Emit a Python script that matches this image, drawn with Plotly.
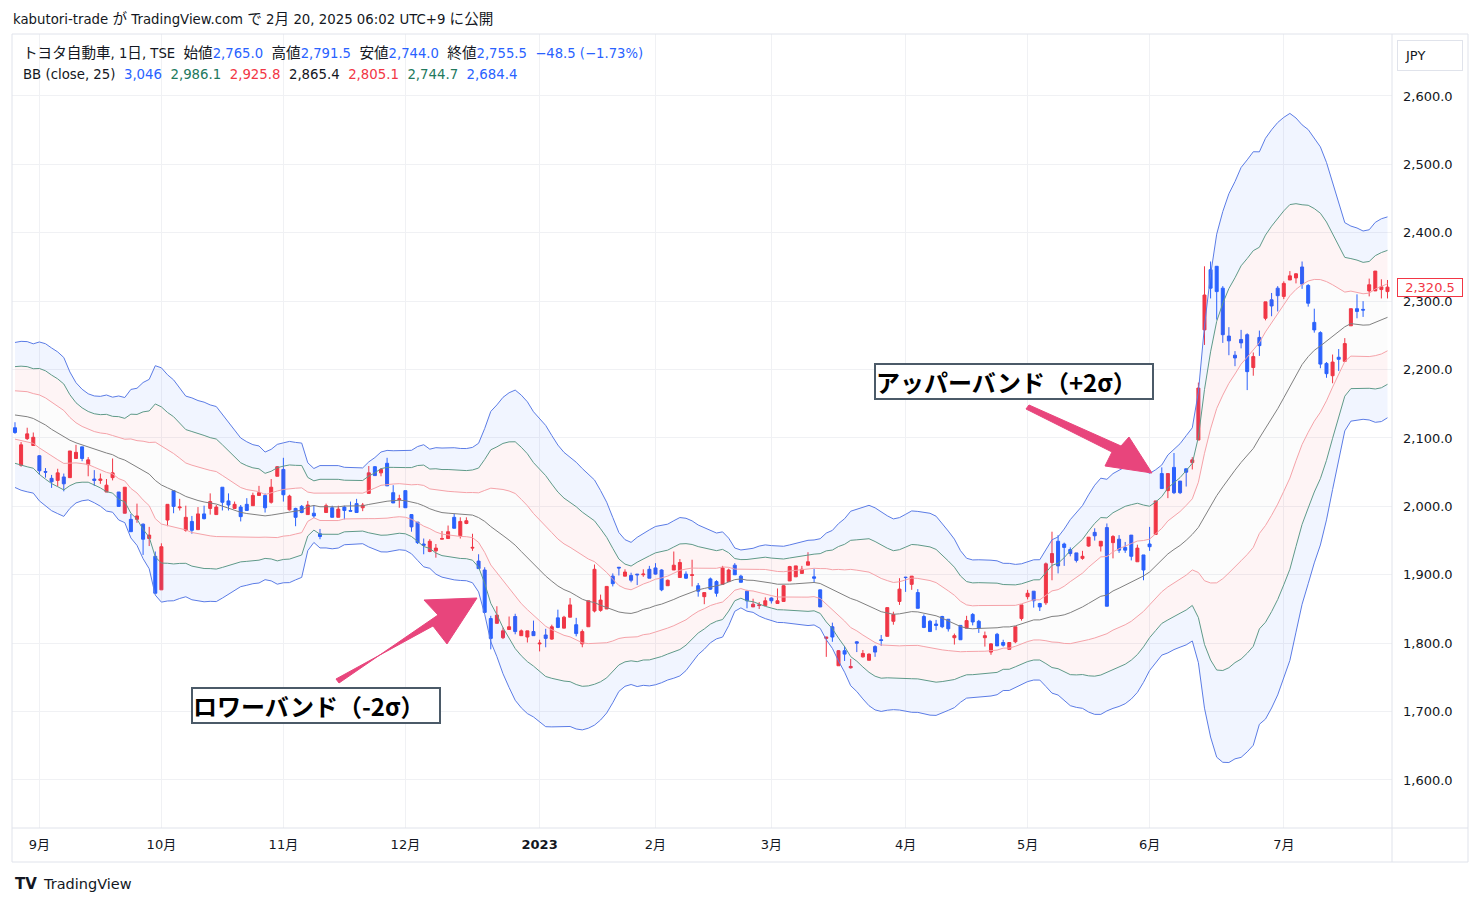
import plotly.graph_objects as go
import pandas as pd

# ---------------- data ----------------
opens = [2115,2060,2099,2089,2074,2051,2041,2038,2043,2042,2070,2087,2061,2040,2038,2021,2042,2021,1990,1981,
         1981,1974,1953,1927,1878,1980,2023,1998,1965,1978,1966,1989,1997,1988,2028,2008,1997,1999,2003,2001,
         2016,2016,2006,2044,2054,1995,1997,2000,1988,1990,1960,1991,1998,1984,1999,1994,2004,1998,2019,2058,
         2049,2063,2020,2010,2023,1988,1977,1945,1934,1935,1952,1953,1984,1957,1975,1939,1920,1907,1836,1829,
         1808,1820,1839,1811,1809,1817,1799,1812,1806,1837,1822,1838,1827,1799,1824,1847,1848,1850,1898,1911,
         1898,1899,1901,1900,1908,1910,1907,1884,1907,1896,1901,1899,1884,1868,1894,1890,1886,1890,1914,1898,
         1876,1853,1855,1855,1866,1858,1861,1891,1897,1902,1914,1897,1878,1807,1824,1767,1789,1764,1802,1780,
         1775,1795,1805,1810,1832,1861,1896.5,1886,1874,1839,1832,1828,1839,1835,1808,1826,1822,1842,1832,1808,
         1787,1813,1801,1791,1802,1836,1868,1876,1858,1859,1918,1949,1945,1937,1932,1924,1942,1962,1942,1969,
         1947,1952,1940,1958,1919,1929,1945,1959,2048,2023,2057,2037,2055,2064,2097,2258,2346,2351,2319,2249,
         2221,2244,2251,2203,2247,2275,2302,2319,2307,2331,2334,2350,2323,2269,2254,2209,2191,2218,2212,2264,
         2289,2288,2315,2315,2317,2314]
highs = [2123,2094,2115,2108,2075,2056,2046,2055,2048,2081,2090,2087,2072,2053,2048,2040,2070,2021,2028,1989,
         2004,1975,1970,1934,1946,2003,2023,2011,2001,1986,1999,2001,2019,2002,2028,2019,2007,2002,2012,2020,
         2030,2019,2040,2059,2071,2017,1998,2002,2008,2002,1967,2004,2001,2001,2001,2007,2011,2005,2059,2059,
         2056,2071,2031,2017,2023,1988,1977,1953,1952,1945,1964,1972,1989,1984,1984,1960,1930,1911,1840,1854,
         1823,1839,1843,1820,1818,1833,1805,1821,1827,1849,1840,1866,1837,1820,1862,1915,1871,1883,1902,1911,
         1908,1903,1901,1908,1913,1917,1908,1893,1934,1923,1905,1922,1888,1874,1896,1892,1913,1909,1917,1900,
         1878,1865,1860,1867,1867,1880,1885,1913,1913,1913,1933,1909,1878,1809,1830,1790,1796,1777,1803,1790,
         1785,1797,1812,1852,1846,1895,1897,1898,1879,1842,1834,1834,1840,1835,1814,1826,1840,1844,1834,1817,
         1800,1815,1805,1801,1824,1856,1878,1876,1859,1918,1963,1958,1947,1940,1932,1935,1955,1968,1949,1975,
         1958,1958,1948,1958,1944,1929,1970,2008,2057,2048,2078,2037,2055,2072,2181,2351,2358,2351,2322,2262,
         2227,2258,2253,2225,2257,2299,2312,2322,2329,2344,2341,2358,2325,2289,2256,2211,2222,2230,2246,2289,
         2310,2300,2333,2344,2332,2331]
lows = [2106,2058,2097,2089,2046,2042,2027,2029,2022,2042,2070,2066,2044,2030,2033,2021,2038,2000,1990,1963,
        1976,1929,1942,1873,1878,1971,1990,1994,1963,1960,1966,1981,1988,1988,1994,1994,1997,1978,1994,2001,
        2016,1991,2004,2044,2007,1994,1971,1990,1988,1983,1952,1991,1984,1984,1981,1993,1991,1993,2019,2045,
        2044,2030,2005,1998,1998,1963,1945,1930,1933,1925,1952,1953,1968,1953,1974,1935,1909,1845,1791,1829,
        1806,1820,1813,1811,1801,1811,1788,1794,1805,1822,1822,1838,1810,1794,1824,1845,1846,1850,1883,1899,
        1898,1889,1885,1897,1895,1900,1876,1884,1907,1896,1894,1883,1868,1857,1878,1868,1885,1890,1900,1889,
        1851,1853,1850,1855,1858,1858,1861,1891,1897,1902,1914,1888,1853,1780,1802,1767,1774,1763,1787,1779,
        1775,1780,1796,1810,1827,1856,1875,1878,1851,1822,1817,1819,1822,1817,1798,1805,1822,1826,1815,1795,
        1783,1796,1795,1791,1800,1833,1864,1852,1847,1856,1892,1902,1913,1927,1918,1922,1941,1950,1934,1854,
        1924,1932,1932,1921,1919,1892,1935,1959,2026,2012,2018,2018,2029,2054,2097,2236,2304,2273,2239,2221,
        2205,2231,2170,2191,2220,2272,2278,2285,2303,2331,2326,2318,2292,2254,2202,2188,2180,2198,2212,2264,
        2275,2277,2307,2315,2304,2304]
closes = [2108,2090,2106,2101,2052,2050,2036,2049,2033,2081,2079,2070,2068,2038,2040,2031,2049,2000,2028,1963,
          1986,1952,1958,1873,1941,2003,2000,1999,1984,1965,1989,1982,2007,1999,2006,2002,2003,1985,1994,2016,
          2020,1998,2028,2058,2017,2015,1984,1991,2002,1986,1956,2001,1984,1996,1994,1993,1991,2002,2049,2045,
          2054,2030,2005,2011,1998,1970,1947,1943,1949,1939,1953,1963,1968,1978,1979,1940,1909,1845,1807,1841,
          1818,1824,1817,1818,1818,1811,1800,1807,1824,1823,1838,1856,1814,1817,1862,1908,1863,1883,1887,1910,
          1904,1892,1900,1901,1895,1901,1878,1892,1914,1918,1895,1900,1876,1874,1879,1873,1910,1907,1900,1889,
          1862,1857,1856,1862,1862,1862,1884,1912,1913,1908,1919,1895,1853,1809,1809,1789,1784,1766,1800,1785,
          1784,1787,1804,1852,1842,1879,1896,1898,1851,1823,1817,1826,1824,1821,1811,1805,1833,1831,1822,1811,
          1799,1796,1797,1801,1824,1856,1873,1862,1853,1916,1931,1913,1940,1931,1921,1927,1955,1957,1949,1854,
          1956,1936,1936,1927,1939,1907,1941,2008,2026,2048,2020,2020,2050,2068,2173,2309,2319,2314,2251,2242,
          2217,2239,2197,2219,2235,2299,2293,2308,2326,2337,2340,2325,2297,2258,2208,2194,2211,2215,2238,2289,
          2285,2287,2324,2344,2321,2320.5]
# closes before the first visible bar, estimated so the bands at the left edge match the picture
pre_closes = [2120,2140,2165,2160,2180,2195,2175,2185,2200,2175,2150,2135,2130,2110,2095,
              2110,2120,2105,2095,2100,2090,2085,2105,2108]

month_tick_idx = [4, 24, 44, 64, 86, 105, 124, 146, 166, 186, 208]
month_tick_text = ["9月", "10月", "11月", "12月", "<b>2023</b>", "2月", "3月", "4月", "5月", "6月", "7月"]
price_ticks = [1600, 1700, 1800, 1900, 2000, 2100, 2200, 2300, 2400, 2500, 2600]
bb_period = 25
last_price = 2320.5

# ---------------- figure geometry helpers ----------------
W, H = 1480, 906
PL, PR, PT, PB = 12, 1392, 34, 828


def px(xp):
    return (xp - PL) / (PR - PL)


def py(yp):
    return (PB - yp) / (PB - PT)


x = list(range(len(closes)))
series = pd.Series(pre_closes + closes, dtype=float)
mid = series.rolling(bb_period).mean().iloc[len(pre_closes):].tolist()
sd = series.rolling(bb_period).std(ddof=0).iloc[len(pre_closes):].tolist()

BLUE_L = "#5b7ce6"
GREEN_L = "#5f9a89"
PINK_L = "#f5a3a9"
GREY_L = "#808080"
BLUE_F = "rgba(41,98,255,0.065)"
PINK_F = "rgba(242,54,69,0.055)"
IN_F = "rgba(120,123,134,0.025)"

fig = go.Figure()


def band(k, color, fill=None, fillcolor=None):
    ys = [m + k * s for m, s in zip(mid, sd)]
    fig.add_trace(go.Scatter(x=x, y=ys, mode="lines", line=dict(color=color, width=1),
                             fill=fill, fillcolor=fillcolor, hoverinfo="skip", showlegend=False))


band(3, BLUE_L)
band(2, GREEN_L, "tonexty", BLUE_F)
band(1, PINK_L, "tonexty", PINK_F)
band(0, GREY_L, "tonexty", IN_F)
band(-1, PINK_L, "tonexty", IN_F)
band(-2, GREEN_L, "tonexty", PINK_F)
band(-3, BLUE_L, "tonexty", BLUE_F)

fig.add_trace(go.Candlestick(
    x=x, open=opens, high=highs, low=lows, close=closes,
    increasing=dict(line=dict(color="#f23645", width=1), fillcolor="#f23645"),
    decreasing=dict(line=dict(color="#2962ff", width=1), fillcolor="#2962ff"),
    whiskerwidth=0, showlegend=False))

FONT = "'DejaVu Sans', 'Noto Sans CJK JP', sans-serif"
TXT = "#131722"
BORDER = "#e0e3eb"
SP = "\u00a0\u00a0"


def jp(s, size=14.6):
    return f"<span style='font-size:{size}px'>{s}</span>"


def col(s, c):
    return f"<span style='color:{c}'>{s}</span>"


shapes = []
# chart frame
shapes.append(dict(type="rect", xref="paper", yref="paper", x0=px(12), x1=px(1468), y0=py(862), y1=py(34),
                   line=dict(color=BORDER, width=1)))
shapes.append(dict(type="line", xref="paper", yref="paper", x0=px(12), x1=px(1468), y0=py(828), y1=py(828),
                   line=dict(color=BORDER, width=1)))
shapes.append(dict(type="line", xref="paper", yref="paper", x0=px(1392), x1=px(1392), y0=py(862), y1=py(34),
                   line=dict(color=BORDER, width=1)))


def arrow(points, color="#e8457c"):
    path = "M " + " L ".join(f"{px(a):.5f},{py(b):.5f}" for a, b in points) + " Z"
    return dict(type="path", xref="paper", yref="paper", path=path, fillcolor=color,
                line=dict(color=color, width=1), layer="above")


# upper arrow (tapered shaft + head) pointing to the band near early June
shapes.append(arrow([(1026, 409), (1112, 452), (1105, 466), (1152, 473), (1129, 437), (1121, 446), (1029, 405)]))
# lower arrow pointing to the late-December drop
shapes.append(arrow([(336, 679), (433, 626), (447, 644), (477, 598), (424, 600), (438, 615), (339, 683)]))

BL = "#2962ff"
GR = "#22795d"
RD = "#f23645"
header = ("kabutori-trade " + jp("が") + " TradingView.com " + jp("で") + " 2" + jp("月") +
          " 20, 2025 06:02 UTC+9 " + jp("に公開"))
line1 = (jp("トヨタ自動車") + ", 1" + jp("日") + ", TSE" + SP + jp("始値") + col("2,765.0", BL) + SP +
         jp("高値") + col("2,791.5", BL) + SP + jp("安値") + col("2,744.0", BL) + SP +
         jp("終値") + col("2,755.5", BL) + SP + col("−48.5 (−1.73%)", BL))
line2 = ("BB (close, 25)" + SP + col("3,046", BL) + SP + col("2,986.1", GR) + SP + col("2,925.8", RD) + SP +
         "2,865.4" + SP + col("2,805.1", RD) + SP + col("2,744.7", GR) + SP + col("2,684.4", BL))

annotations = [
    dict(text=header, xref="paper", yref="paper", x=px(11), y=py(19), xanchor="left", yanchor="middle",
         showarrow=False, font=dict(family=FONT, size=13.3, color=TXT)),
    dict(text=line1, xref="paper", yref="paper", x=px(21), y=py(53), xanchor="left", yanchor="middle",
         showarrow=False, font=dict(family=FONT, size=13.2, color=TXT)),
    dict(text=line2, xref="paper", yref="paper", x=px(21), y=py(74), xanchor="left", yanchor="middle",
         showarrow=False, font=dict(family=FONT, size=13.3, color=TXT)),
    dict(text="JPY", xref="paper", yref="paper", x=px(1430), y=py(55), xanchor="center", yanchor="middle",
         showarrow=False, font=dict(family=FONT, size=13, color=TXT), bordercolor=BORDER, borderwidth=1,
         borderpad=7, width=50, align="left"),
    dict(text=f"{last_price:,.1f}", xref="paper", y=last_price, yref="y", x=px(1430), xanchor="center",
         yanchor="middle", showarrow=False, font=dict(family=FONT, size=13, color=RD),
         bgcolor="#ffffff", bordercolor=RD, borderwidth=1, borderpad=1, width=62),
    dict(text="<b>アッパーバンド（+2σ）</b>", xref="paper", yref="paper", x=px(1014), y=py(381.5),
         xanchor="center", yanchor="middle", showarrow=False, align="left",
         font=dict(family="'Noto Sans CJK JP'", size=24, color="#000000"),
         bgcolor="#ffffff", bordercolor="#4b5a68", borderwidth=2, borderpad=0, width=276, height=33),
    dict(text="<b>ロワーバンド（-2σ）</b>", xref="paper", yref="paper", x=px(316), y=py(705.5),
         xanchor="center", yanchor="middle", showarrow=False, align="left",
         font=dict(family="'Noto Sans CJK JP'", size=24, color="#000000"),
         bgcolor="#ffffff", bordercolor="#4b5a68", borderwidth=2, borderpad=0, width=246, height=33),
    dict(text="<b>TV</b>", xref="paper", yref="paper", x=px(13), y=py(884), xanchor="left",
         yanchor="middle", showarrow=False, font=dict(family=FONT, size=15, color=TXT)),
    dict(text="TradingView", xref="paper", yref="paper", x=px(41), y=py(884), xanchor="left",
         yanchor="middle", showarrow=False, font=dict(family=FONT, size=14.5, color=TXT)),
]

fig.update_layout(
    width=W, height=H, autosize=False,
    margin=dict(l=PL, r=W - PR, t=PT, b=H - PB, pad=0),
    paper_bgcolor="#ffffff", plot_bgcolor="#ffffff",
    showlegend=False, hovermode=False,
    shapes=shapes, annotations=annotations,
    xaxis=dict(range=[-0.49, 225.74], tickvals=month_tick_idx, ticktext=month_tick_text,
               showgrid=True, gridcolor="#f0f1f4", gridwidth=1, zeroline=False, showline=False,
               ticks="", ticklabelstandoff=7, rangeslider=dict(visible=False),
               tickfont=dict(family=FONT, size=13, color=TXT), fixedrange=True),
    yaxis=dict(side="right", range=[1529.8, 2690.6], tickvals=price_ticks, tickformat=",.1f",
               showgrid=True, gridcolor="#f0f1f4", gridwidth=1, zeroline=False, showline=False,
               ticks="", ticklabelstandoff=10, tickfont=dict(family=FONT, size=13, color=TXT),
               fixedrange=True),
)

fig.write_html("out.html")
